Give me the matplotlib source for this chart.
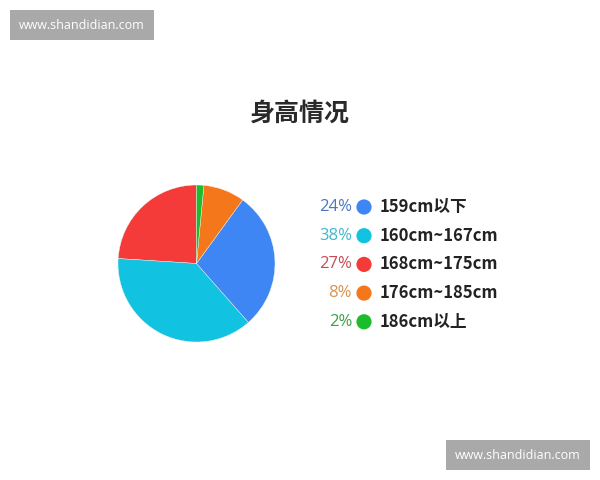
import matplotlib
matplotlib.use("Agg")
import matplotlib.pyplot as plt

plt.rcParams["font.family"] = ["Noto Sans CJK SC", "DejaVu Sans"]

# data
title = "身高情况"
categories = ["159cm以下", "160cm~167cm", "168cm~175cm", "176cm~185cm", "186cm以上"]
percent_labels = ["24%", "38%", "27%", "8%", "2%"]
# slice shares as drawn in the pie
pie_shares = [28.5, 37.5, 24.0, 8.5, 1.5]
slice_colors = ["#3f86f5", "#12c2e1", "#f53a3a", "#f5771b", "#1cbc2c"]
text_colors = ["#4a78c2", "#3eb8c8", "#c84a55", "#d8924f", "#3a9f48"]
watermark = "www.shandidian.com"

W, H = 600, 480
fig = plt.figure(figsize=(W / 100, H / 100), dpi=100)
fig.patch.set_facecolor("white")

# pie, counter-clockwise from top: red, cyan, blue, orange, green
cx, cy, r = 196.5, 263.5, 78.5
pax = fig.add_axes([(cx - r) / W, (H - cy - r) / H, 2 * r / W, 2 * r / H])
order = [2, 1, 0, 3, 4]
pax.pie([pie_shares[i] for i in order],
        colors=[slice_colors[i] for i in order],
        startangle=90, counterclock=True,
        wedgeprops=dict(linewidth=0.3, edgecolor="#eef3ee"))
pax.set_xlim(-1.0, 1.0)
pax.set_ylim(-1.0, 1.0)
pax.set_aspect("equal")
pax.axis("off")

# overlay in pixel coords
ax = fig.add_axes([0, 0, 1, 1])
ax.set_xlim(0, W)
ax.set_ylim(H, 0)
ax.axis("off")

ax.text(300, 114, title, ha="center", va="center", fontsize=18,
        fontweight="heavy", color="#2a2a2a")

row_y0, row_step = 207, 28.7
rows = [row_y0 + i * row_step for i in range(len(categories))]
ax.scatter([364] * len(rows), rows, s=120, c=slice_colors, zorder=3,
           linewidths=0)
for y, pct, lab, tc in zip(rows, percent_labels, categories, text_colors):
    ax.text(352, y, pct, ha="right", va="center", fontsize=12,
            color=tc, family=["Open Sans", "DejaVu Sans"])
    ax.text(380, y, lab, ha="left", va="center", fontsize=12,
            fontweight="heavy", color="#222222")

# watermarks
for x0, y0 in [(10, 10), (446, 440)]:
    ax.add_patch(plt.Rectangle((x0, y0), 144, 30, color="#a9a9a9", lw=0))
    ax.text(x0 + 72, y0 + 15.5, watermark, ha="center", va="center",
            fontsize=9, color="white", family=["Open Sans", "DejaVu Sans"])

fig.savefig("out.png", dpi=100, facecolor="white")
